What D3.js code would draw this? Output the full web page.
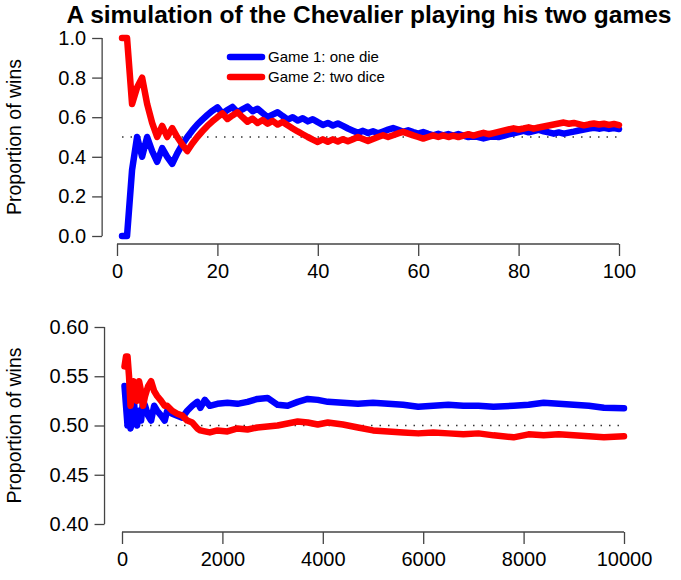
<!DOCTYPE html>
<html>
<head>
<meta charset="utf-8">
<script src="https://cdn.jsdelivr.net/npm/d3@7/dist/d3.min.js"></script>
<style>
body { margin: 0; background: #fff; }
svg text { font-family: "Liberation Sans", Arial, Helvetica, sans-serif; fill: #000; }
</style>
</head>
<body>
<div id="chart"></div>
<script>
// ---- data ----
// panel 1: running proportion of wins over the first 100 plays
var topTrials = d3.range(1, 101);
var topGame1 = [0,0,.333,.5,.4,.5,.429,.375,.444,.4,
  .364,.417,.462,.5,.533,.563,.588,.611,.632,.65,
  .619,.636,.652,.625,.64,.654,.63,.643,.621,.6,
  .613,.625,.606,.588,.6,.583,.595,.579,.59,.575,
  .561,.571,.558,.568,.556,.543,.532,.521,.531,.52,
  .529,.519,.528,.537,.545,.536,.526,.534,.525,.517,
  .525,.516,.508,.516,.508,.515,.507,.515,.507,.5,
  .507,.5,.493,.5,.507,.5,.506,.513,.519,.525,
  .531,.524,.53,.536,.529,.523,.517,.523,.517,.522,
  .527,.533,.538,.543,.547,.542,.546,.541,.545,.54];
var topGame2 = [1,1,.667,.75,.8,.667,.571,.5,.556,.5,
  .545,.5,.462,.429,.467,.5,.529,.556,.579,.6,
  .619,.591,.609,.625,.6,.577,.593,.571,.586,.567,
  .581,.563,.576,.559,.543,.528,.514,.5,.487,.475,
  .488,.476,.488,.477,.489,.478,.489,.5,.49,.48,
  .49,.5,.509,.5,.509,.518,.526,.517,.508,.5,
  .492,.5,.508,.5,.508,.5,.507,.5,.507,.514,
  .507,.514,.521,.514,.52,.526,.532,.538,.544,.538,
  .543,.549,.542,.548,.553,.558,.563,.568,.573,.567,
  .571,.565,.559,.564,.568,.563,.567,.561,.566,.56];

// panel 2: the same running proportion over 10000 plays (sampled)
var bottomTrials = [50,80,110,140,170,200,230,260,300,340,380,420,460,520,580,640,700,780,850,900,
  1000,1100,1200,1300,1400,1500,1560,1650,1750,1900,2100,2300,2500,2700,2900,3100,3300,3500,3700,3900,
  4100,4400,4700,5000,5300,5600,5900,6200,6500,6800,7100,7400,7800,8100,8400,8700,9000,9300,9600,10000];
var bottomGame1 = [.54,.52,.50,.51,.497,.505,.53,.51,.50,.515,.505,.525,.52,.51,.505,.52,.515,.51,.505,.515,
  .512,.51,.508,.515,.52,.524,.518,.526,.52,.522,.523,.522,.524,.527,.528,.521,.52,.524,.527,.526,
  .524,.523,.522,.523,.522,.521,.519,.52,.521,.52,.52,.519,.52,.521,.523,.522,.521,.52,.518,.5175];
var bottomGame2 = [.56,.57,.57,.55,.52,.53,.545,.54,.525,.545,.535,.52,.53,.54,.545,.535,.53,.525,.52,.52,
  .515,.512,.51,.505,.503,.497,.495,.494,.493,.495,.494,.497,.496,.498,.499,.5,.502,.504,.503,.501,
  .503,.501,.498,.495,.494,.493,.492,.493,.492,.491,.492,.49,.488,.491,.49,.491,.49,.489,.488,.489];

var topXTicks = [0, 20, 40, 60, 80, 100];
var topYTicks = [0, 0.2, 0.4, 0.6, 0.8, 1.0];
var bottomXTicks = [0, 2000, 4000, 6000, 8000, 10000];
var bottomYTicks = [0.40, 0.45, 0.50, 0.55, 0.60];

var seriesNames = ["Game 1: one die", "Game 2: two dice"];
var seriesColors = ["#0000ff", "#ff0000"];

// ---- layout ----
var W = 681, H = 580;
var svg = d3.select("#chart").append("svg")
  .attr("width", W).attr("height", H);

svg.append("text")
  .attr("x", 369).attr("y", 23)
  .attr("text-anchor", "middle")
  .style("font-size", "24.5px").style("font-weight", "bold")
  .text("A simulation of the Chevalier playing his two games");

function panel(opts) {
  var x = d3.scaleLinear().domain(opts.xDomain).range(opts.xRange);
  var y = d3.scaleLinear().domain(opts.yDomain).range(opts.yRange);
  var g = svg.append("g");

  // R style: axes sit at the edge of the 4% padded region
  var n0 = opts.trials[0], n1 = opts.trials[opts.trials.length - 1];
  var xEdge = x(n0 - 0.04 * (n1 - n0));
  var yEdge = opts.yRange[0] + 8;

  var xAxis = g.append("g")
    .attr("transform", "translate(0," + yEdge + ")")
    .call(d3.axisBottom(x).tickValues(opts.xTicks).tickSize(12).tickPadding(8)
      .tickFormat(d3.format("d")));
  xAxis.select(".domain").remove();
  xAxis.append("line")
    .attr("x1", x(opts.xTicks[0])).attr("x2", x(opts.xTicks[opts.xTicks.length - 1]))
    .attr("stroke", "#444");

  var yAxis = g.append("g")
    .attr("transform", "translate(" + xEdge + ",0)")
    .call(d3.axisLeft(y).tickValues(opts.yTicks).tickSize(10).tickPadding(6)
      .tickFormat(d3.format(opts.yFormat)));
  yAxis.select(".domain").remove();
  yAxis.append("line")
    .attr("y1", y(opts.yTicks[0])).attr("y2", y(opts.yTicks[opts.yTicks.length - 1]))
    .attr("stroke", "#444");

  g.selectAll(".tick line").attr("stroke", "#444").attr("stroke-width", 1.3);
  g.selectAll(".tick text").style("font-size", "20px").attr("fill", "#000");
  xAxis.selectAll("line").attr("stroke-width", 1.3);
  yAxis.selectAll("line").attr("stroke-width", 1.3);

  g.append("text")
    .attr("transform", "translate(21," + ((opts.yRange[0] + opts.yRange[1]) / 2) + ") rotate(-90)")
    .attr("text-anchor", "middle")
    .style("font-size", "19.5px")
    .text("Proportion of wins");

  // dotted 0.5 reference
  g.append("line")
    .attr("x1", x(n0)).attr("x2", x(n1))
    .attr("y1", y(0.5)).attr("y2", y(0.5))
    .attr("stroke", "#333").attr("stroke-width", 1.5)
    .attr("stroke-dasharray", "1.5,7");

  var line = d3.line()
    .x(function(d){ return x(d[0]); })
    .y(function(d){ return y(d[1]); });

  opts.series.forEach(function(vals, i){
    g.append("path")
      .datum(opts.trials.map(function(t, j){ return [t, vals[j]]; }))
      .attr("fill", "none")
      .attr("stroke", seriesColors[i])
      .attr("stroke-width", 6.5)
      .attr("stroke-linejoin", "round")
      .attr("stroke-linecap", "round")
      .attr("d", line);
  });
  return g;
}

var topPanel = panel({
  trials: topTrials, series: [topGame1, topGame2],
  xDomain: [0, 100], xRange: [117, 619],
  yDomain: [0, 1], yRange: [236, 38],
  xTicks: topXTicks, yTicks: topYTicks, yFormat: ".1f"
});

panel({
  trials: bottomTrials, series: [bottomGame1, bottomGame2],
  xDomain: [0, 10000], xRange: [122, 624],
  yDomain: [0.4, 0.6], yRange: [524, 327],
  xTicks: bottomXTicks, yTicks: bottomYTicks, yFormat: ".2f"
});

// legend
var legend = topPanel.append("g").attr("transform", "translate(230,57)");
seriesNames.forEach(function(name, i){
  var row = legend.append("g").attr("transform", "translate(0," + (i * 20) + ")");
  row.append("line")
    .attr("x1", 0).attr("x2", 32)
    .attr("stroke", seriesColors[i]).attr("stroke-width", 6.5)
    .attr("stroke-linecap", "round");
  row.append("text")
    .attr("x", 38).attr("y", 5)
    .style("font-size", "15px")
    .text(name);
});
</script>
</body>
</html>
